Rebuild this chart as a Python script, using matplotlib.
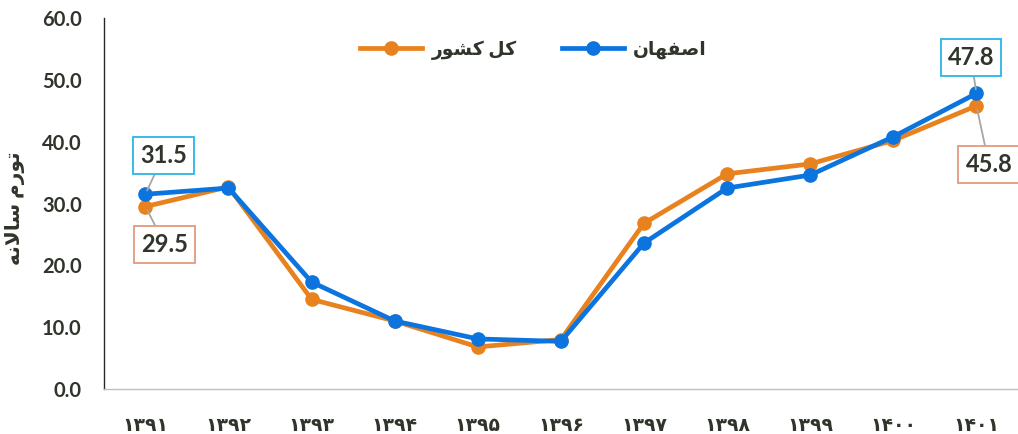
import matplotlib
matplotlib.use("Agg")
import matplotlib.pyplot as plt

years = ["۱۳۹۱", "۱۳۹۲", "۱۳۹۳", "۱۳۹۴", "۱۳۹۵", "۱۳۹۶", "۱۳۹۷", "۱۳۹۸", "۱۳۹۹", "۱۴۰۰", "۱۴۰۱"]
country = [29.5, 32.7, 14.5, 11.0, 6.8, 8.0, 26.8, 34.8, 36.4, 40.2, 45.8]
isfahan = [31.5, 32.5, 17.3, 11.0, 8.1, 7.7, 23.6, 32.5, 34.6, 40.8, 47.8]

# Persian labels written in shaped presentation forms, visual (left-to-right) order
label_country = "\uFEAD\uFEEE\uFEB8\uFB90 \uFEDE\uFB90"        # کل کشور
label_isfahan = "\uFEE5\uFE8E\uFEEC\uFED4\uFEBB\uFE8D"          # اصفهان
ylabel = "\uFEEA\uFEE7\uFEFB\uFE8E\uFEB3 \uFEE1\uFEAD\uFEEE\uFE97"  # تورم سالانه

ORANGE = "#E8821E"
BLUE = "#0B74DE"
TXT = "#30352B"
FAM = ["Lato", "DejaVu Sans"]

fig = plt.figure(figsize=(10.18, 4.34), dpi=100)
ax = fig.add_axes([0.102, 0.1037, 0.898, 0.8548])

x = list(range(len(years)))
ax.plot(x, country, color=ORANGE, lw=3.4, marker="o", ms=9.5, label=label_country, zorder=3)
ax.plot(x, isfahan, color=BLUE, lw=3.4, marker="o", ms=9.5, label=label_isfahan, zorder=4)

ax.set_xlim(-0.5, len(years) - 0.5)
ax.set_ylim(0, 60)
ax.set_yticks([0, 10, 20, 30, 40, 50, 60])
ax.set_yticklabels([f"{v:.1f}" for v in [0, 10, 20, 30, 40, 50, 60]])
ax.set_xticks(x)
ax.set_xticklabels(years)
for lab in ax.get_yticklabels():
    lab.set_family(FAM); lab.set_fontweight("bold"); lab.set_fontsize(14.5); lab.set_color(TXT)
for lab in ax.get_xticklabels():
    lab.set_family(FAM); lab.set_fontweight("bold"); lab.set_fontsize(13.5); lab.set_color(TXT)
ax.tick_params(axis="both", length=0)
ax.tick_params(axis="y", pad=16)
ax.tick_params(axis="x", pad=20)
for s in ["top", "right"]:
    ax.spines[s].set_visible(False)
ax.spines["left"].set_color("#262626")
ax.spines["left"].set_linewidth(1.0)
ax.spines["bottom"].set_color("#BFBFBF")
ax.spines["bottom"].set_linewidth(1.0)

fig.text(0.015, 0.52, ylabel, rotation=90, ha="center", va="center",
         fontsize=14.5, fontweight="bold", color=TXT, family=FAM)

leg = ax.legend(loc="upper center", bbox_to_anchor=(0.47, 0.985), ncol=2, frameon=False,
                prop={"family": FAM, "weight": "bold", "size": 13.5}, handlelength=3.3,
                columnspacing=2.4, handletextpad=0.5)
for t in leg.get_texts():
    t.set_color(TXT)

def box(val, xi, yi, dx, dy, ec):
    ax.annotate(f"{val:.1f}", xy=(xi, yi), xytext=(dx, dy), textcoords="offset points",
                ha="center", va="center", fontsize=17, fontweight="bold", color=TXT,
                family=FAM,
                bbox=dict(boxstyle="square,pad=0.3", fc="white", ec=ec, lw=1.3),
                arrowprops=dict(arrowstyle="-", color="#A6A6A6", lw=1.3,
                                shrinkA=0, shrinkB=3), zorder=6)

box(isfahan[0], 0, isfahan[0], 13, 28, "#29B5E8")
box(country[0], 0, country[0], 14, -27, "#E39A80")
box(isfahan[-1], 10, isfahan[-1], -4, 26, "#29B5E8")
box(country[-1], 10, country[-1], 9, -42, "#E39A80")

fig.savefig("out.png", dpi=100)
